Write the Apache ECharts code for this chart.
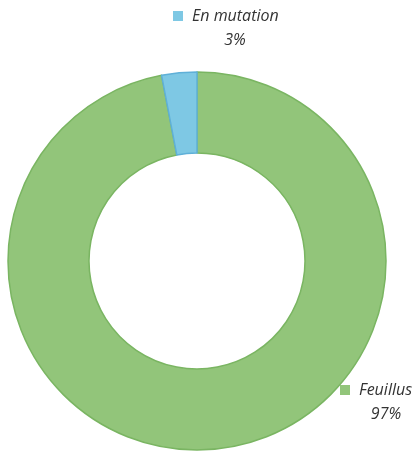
<!DOCTYPE html>
<html><head><meta charset="utf-8">
<script src="https://cdn.jsdelivr.net/npm/echarts@6/dist/echarts.min.js"></script>
<style>html,body{margin:0;padding:0;background:#fff}#c{width:417px;height:453px}</style>
</head><body><div id="c"></div>
<script>
const categories = ['Feuillus', 'En mutation'];
const values = [97, 3];
const colors = ['#92c57a', '#7ec8e4'];
const borders = ['#7ab562', '#5fb0d8'];
const legendPos = [[340, 382], [173, 8]];
const pctPos = [[386, 414], [235, 40]];

const font = { fontFamily: 'Open Sans', fontStyle: 'italic', fontSize: 16, color: '#333333' };

const chart = echarts.init(document.getElementById('c'));
chart.setOption({
  animation: false,
  legend: categories.map((n, i) => ({
    data: [n],
    left: legendPos[i][0], top: legendPos[i][1],
    icon: 'rect', itemWidth: 10, itemHeight: 10, itemGap: 0,
    padding: 0,
    selectedMode: false,
    itemStyle: { borderWidth: 0, color: colors[i] },
    textStyle: Object.assign({ padding: [0, 0, 0, 4] }, font)
  })),
  series: [{
    type: 'pie',
    center: [197, 261],
    radius: [108, 189],
    startAngle: 90,
    clockwise: true,
    data: categories.map((n, i) => ({
      name: n, value: values[i],
      itemStyle: { color: colors[i], borderColor: borders[i], borderWidth: 1.5 }
    })),
    label: Object.assign({
      show: true,
      position: 'outside',
      formatter: p => p.value + '%'
    }, font),
    labelLine: { show: false },
    labelLayout: params => {
      const i = params.dataIndex;
      return { x: pctPos[i][0], y: pctPos[i][1], align: 'center', verticalAlign: 'middle' };
    }
  }]
});
</script></body></html>
